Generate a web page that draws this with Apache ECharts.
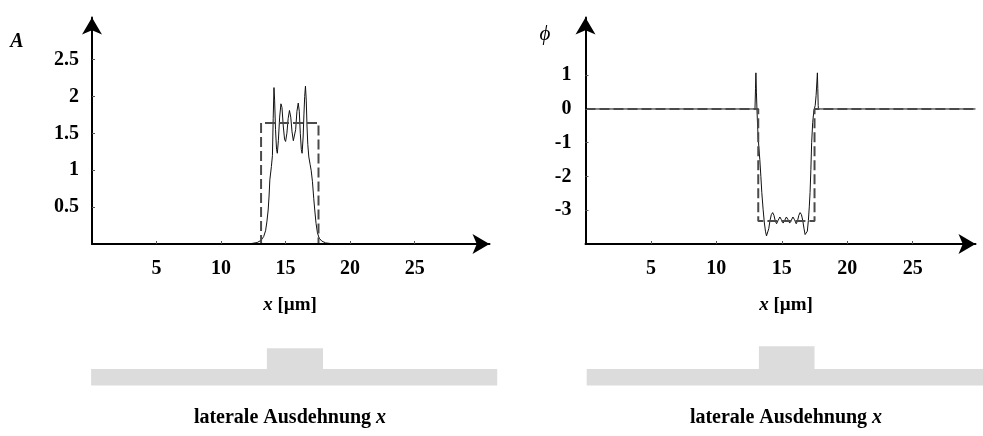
<!DOCTYPE html>
<html>
<head>
<meta charset="utf-8">
<script src="https://cdn.jsdelivr.net/npm/echarts@6/dist/echarts.min.js"></script>
<style>
  html, body { margin: 0; padding: 0; background: #fff; }
  #chart { width: 983px; height: 436px; }
</style>
</head>
<body>
<div id="chart"></div>
<script>
// Amplitude A across the lateral coordinate x [µm]: simulated (solid) and ideal step (dashed)
const ampSimulated = [
  [0, 0], [11.5, 0], [12.3, 0.005], [12.8, 0.02], [13.1, 0.05], [13.3, 0.1], [13.45, 0.18],
  [13.55, 0.3], [13.65, 0.46], [13.72, 0.65], [13.78, 0.87], [13.9, 1.05], [13.98, 1.2],
  [14.04, 1.7], [14.1, 2.12], [14.15, 1.95], [14.22, 1.55], [14.3, 1.28], [14.36, 1.23],
  [14.44, 1.4], [14.54, 1.72], [14.64, 1.9], [14.72, 1.85], [14.82, 1.6], [14.92, 1.42],
  [15.0, 1.39], [15.1, 1.5], [15.2, 1.7], [15.3, 1.81], [15.4, 1.72], [15.5, 1.52],
  [15.6, 1.4], [15.68, 1.4], [15.78, 1.55], [15.88, 1.8], [15.98, 1.91], [16.06, 1.8],
  [16.14, 1.5], [16.22, 1.28], [16.28, 1.23], [16.36, 1.45], [16.42, 1.75], [16.48, 2.0],
  [16.54, 2.14], [16.6, 1.95], [16.66, 1.6], [16.72, 1.35], [16.8, 1.18], [16.9, 1.08],
  [16.98, 1.0], [17.08, 0.85], [17.18, 0.62], [17.26, 0.46], [17.36, 0.28], [17.47, 0.15],
  [17.6, 0.08], [17.8, 0.04], [18.1, 0.015], [18.6, 0.004], [19.5, 0], [30.8, 0]
];
const ampIdeal = [
  [0, 0], [13.1, 0], [13.1, 1.64], [17.55, 1.64], [17.55, 0], [30.8, 0]
];

// Phase ϕ across x: simulated (solid) and ideal step (dashed)
const phaseSimulated = [
  [0, 0], [12.95, 0], [12.99, 0.6], [13.02, 1.07], [13.06, 0.5], [13.1, 0], [13.16, -0.6],
  [13.24, -1.1], [13.32, -1.5], [13.4, -2.0], [13.47, -2.47], [13.57, -2.97], [13.66, -3.35],
  [13.75, -3.62], [13.83, -3.76], [13.92, -3.72], [14.0, -3.55], [14.1, -3.3], [14.2, -3.13],
  [14.3, -3.07], [14.4, -3.15], [14.5, -3.32], [14.6, -3.4], [14.72, -3.3], [14.85, -3.2],
  [14.97, -3.28], [15.1, -3.38], [15.22, -3.3], [15.35, -3.2], [15.48, -3.28], [15.6, -3.38],
  [15.72, -3.3], [15.85, -3.2], [15.97, -3.28], [16.1, -3.4], [16.2, -3.32], [16.3, -3.15],
  [16.4, -3.07], [16.5, -3.13], [16.6, -3.3], [16.7, -3.55], [16.78, -3.72], [16.87, -3.76],
  [16.95, -3.62], [17.03, -3.3], [17.1, -2.9], [17.16, -2.47], [17.22, -1.8], [17.28, -1.0],
  [17.36, -0.4], [17.45, -0.05], [17.55, 0.1], [17.62, 0.4], [17.68, 0.8], [17.72, 1.07],
  [17.75, 0.6], [17.78, 0.1], [17.8, 0], [29.8, 0]
];
const phaseIdeal = [
  [0, 0], [13.2, 0], [13.2, -3.32], [17.5, -3.32], [17.5, 0], [29.8, 0]
];

// Tick labels
const xTickValues = [5, 10, 15, 20, 25];
const ampTickValues = [0.5, 1, 1.5, 2, 2.5];
const phaseTickValues = [-3, -2, -1, 0, 1];

// Cross-section sketch of the structure: [xStart, xEnd, yBottom, yTop]
const profileLeft = [[-0.07, 31.4, 0, 1], [13.55, 17.9, 1, 2.27]];
const profileRight = [[0.09, 30.6, 0, 1], [13.25, 17.5, 1, 2.39]];

const serif = '"Liberation Serif", "Times New Roman", serif';
const labelFont = { fontFamily: serif, fontWeight: 'bold', fontSize: 20, color: '#000' };

function plotXAxis(gridIndex, max) {
  return {
    type: 'value', gridIndex, min: 0, max, interval: 5, z: 5,
    axisLine: { onZero: false, lineStyle: { color: '#000', width: 2 },
      symbol: ['none', 'arrow'], symbolSize: [15, 17] },
    axisTick: { inside: true, length: 3, customValues: xTickValues,
      lineStyle: { color: '#555', width: 1 } },
    axisLabel: Object.assign({ margin: 15, customValues: xTickValues }, labelFont),
    splitLine: { show: false }
  };
}
function plotYAxis(gridIndex, min, max, step, ticks, margin) {
  return {
    type: 'value', gridIndex, min, max, interval: step, z: 5,
    axisLine: { onZero: false, lineStyle: { color: '#000', width: 2 },
      symbol: ['none', 'arrow'], symbolSize: [15, 17] },
    axisTick: { inside: true, length: 3, customValues: ticks,
      lineStyle: { color: '#555', width: 1 } },
    axisLabel: Object.assign({ margin, customValues: ticks }, labelFont),
    splitLine: { show: false }
  };
}
function hiddenAxis(gridIndex, min, max) {
  return { type: 'value', gridIndex, min, max, show: false, splitLine: { show: false } };
}
function profileSeries(xi, data) {
  return {
    type: 'custom', xAxisIndex: xi, yAxisIndex: xi, data, silent: true,
    encode: { x: [0, 1], y: [2, 3] },
    renderItem(params, api) {
      const a = api.coord([api.value(0), api.value(3)]);
      const b = api.coord([api.value(1), api.value(2)]);
      return { type: 'rect', shape: { x: a[0], y: a[1], width: b[0] - a[0], height: b[1] - a[1] },
        style: { fill: '#dcdcdc' } };
    }
  };
}
function lineSeries(i, data, dashed) {
  return {
    type: 'line', xAxisIndex: i, yAxisIndex: i, data, showSymbol: false, silent: true,
    lineStyle: dashed ? { color: '#4a4a4a', width: 2, type: [10, 4] } : { color: '#111', width: 1 },
    z: dashed ? 3 : 2
  };
}
function caption(x, y, text, size) {
  return { type: 'text', x, y, style: { text, fontFamily: serif, fontWeight: 'bold',
    fontSize: size, fill: '#000', align: 'center', verticalAlign: 'middle',
    rich: { i: { fontFamily: serif, fontWeight: 'bold', fontStyle: 'italic', fontSize: size } } } };
}

const chart = echarts.init(document.getElementById('chart'), null, { renderer: 'canvas' });

chart.setOption({
  animation: false,
  backgroundColor: '#fff',
  grid: [
    { left: 92, right: 493.5, top: 17.5, bottom: 192 },
    { left: 585.5, right: 7.5, top: 17.5, bottom: 192 },
    { left: 92, right: 493.5, top: 346, bottom: 50.5 },
    { left: 585.5, right: 7.5, top: 346, bottom: 50.5 }
  ],
  xAxis: [
    plotXAxis(0, 30.8),
    plotXAxis(1, 29.8),
    hiddenAxis(2, 0, 30.8),
    hiddenAxis(3, 0, 29.8)
  ],
  yAxis: [
    plotYAxis(0, 0, 3.07, 0.5, ampTickValues, 13),
    plotYAxis(1, -4, 2.71, 1, phaseTickValues, 14),
    hiddenAxis(2, 0, 2.4),
    hiddenAxis(3, 0, 2.4)
  ],
  series: [
    lineSeries(0, ampSimulated, false),
    lineSeries(0, ampIdeal, true),
    lineSeries(1, phaseSimulated, false),
    lineSeries(1, phaseIdeal, true),
    profileSeries(2, profileLeft),
    profileSeries(3, profileRight)
  ],
  graphic: [
    { type: 'text', x: 17, y: 42, style: { text: 'A', fontFamily: serif, fontWeight: 'bold',
      fontStyle: 'italic', fontSize: 20, fill: '#000', align: 'center', verticalAlign: 'middle' } },
    { type: 'text', x: 545, y: 34, style: { text: 'ϕ', fontFamily: serif,
      fontStyle: 'italic', fontSize: 21, fill: '#000', align: 'center', verticalAlign: 'middle' } },
    caption(290, 305, '{i|x} [µm]', 19),
    caption(786, 305, '{i|x} [µm]', 19),
    caption(290, 418, 'laterale Ausdehnung {i|x}', 20),
    caption(786, 418, 'laterale Ausdehnung {i|x}', 20)
  ]
});
</script>
</body>
</html>
